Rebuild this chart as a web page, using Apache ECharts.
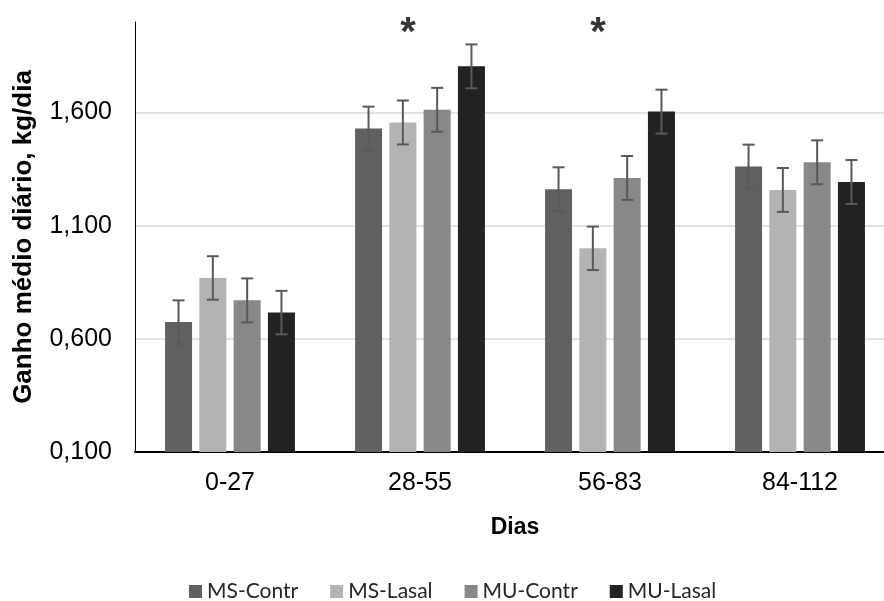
<!DOCTYPE html>
<html>
<head>
<meta charset="utf-8">
<script src="https://cdn.jsdelivr.net/npm/echarts@6/dist/echarts.min.js"></script>
<style>
  html, body { margin: 0; padding: 0; background: #fff; overflow: hidden; }
  #chart { width: 900px; height: 601px; }
</style>
</head>
<body>
<div id="chart"></div>
<script>
// data
const categories = ["0-27", "28-55", "56-83", "84-112"];
const seriesNames = ["MS-Contr", "MS-Lasal", "MU-Contr", "MU-Lasal"];
const msContr = [0.674, 1.529, 1.261, 1.361];
const msLasal = [0.869, 1.556, 1.000, 1.258];
const muContr = [0.770, 1.612, 1.311, 1.380];
const muLasal = [0.716, 1.804, 1.604, 1.293];
const msContrErr = [0.096, 0.097, 0.097, 0.097];
const msLasalErr = [0.096, 0.097, 0.096, 0.097];
const muContrErr = [0.097, 0.097, 0.097, 0.097];
const muLasalErr = [0.096, 0.097, 0.097, 0.097];
const sigCategories = ["28-55", "56-83"];
const sigHeight = [1.976, 1.976];
const yMin = 0.1;
const yMax = 2.0;
const yStep = 0.5;

const colors = ["#606060", "#b3b3b3", "#888888", "#222222"];
const BAR_W = 27;
const BAR_SPACE = 34.3; // bar width + gap between bars

const values = [msContr, msLasal, muContr, muLasal];
const errors = [msContrErr, msLasalErr, muContrErr, muLasalErr];

let myChart = echarts.init(document.getElementById("chart"));

const barSeries = seriesNames.map((name, i) => ({
  name: name,
  type: "bar",
  barWidth: BAR_W,
  barGap: "27%",
  itemStyle: { color: colors[i] },
  data: values[i]
}));

const errSeries = seriesNames.map((name, i) => ({
  name: name + "-err",
  type: "custom",
  z: 5,
  silent: true,
  data: values[i].map((v, k) => [k, v - errors[i][k], v + errors[i][k]]),
  encode: { x: 0, y: [1, 2] },
  renderItem: function (params, api) {
    const lo = api.coord([api.value(0), api.value(1)]);
    const hi = api.coord([api.value(0), api.value(2)]);
    const x = lo[0] + (i - 1.5) * BAR_SPACE;
    const cap = 6;
    const st = { stroke: "#595959", lineWidth: 2 };
    return {
      type: "group",
      children: [
        { type: "line", shape: { x1: x, y1: hi[1], x2: x, y2: lo[1] }, style: st },
        { type: "line", shape: { x1: x - cap, y1: hi[1], x2: x + cap, y2: hi[1] }, style: st },
        { type: "line", shape: { x1: x - cap, y1: lo[1], x2: x + cap, y2: lo[1] }, style: st }
      ]
    };
  }
}));

const sigSeries = {
  name: "sig",
  type: "scatter",
  symbolSize: 0,
  silent: true,
  z: 6,
  data: sigCategories.map((c, k) => [c, sigHeight[k]]),
  label: {
    show: true,
    position: "inside",
    formatter: "*",
    offset: [-12, 7],
    color: "#000",
    fontFamily: "Liberation Sans",
    fontWeight: "bold",
    fontSize: 40
  }
};

myChart.setOption({
  animation: false,
  grid: {
    left: 135,
    right: 5,
    top: 22,
    bottom: 149,
    containLabel: false
  },
  legend: {
    data: seriesNames,
    top: 576,
    left: 184,
    itemWidth: 13,
    itemHeight: 13,
    itemGap: 32,
    icon: "rect",
    textStyle: {
      fontFamily: "Lato",
      fontSize: 21,
      color: "#262626"
    }
  },
  xAxis: {
    type: "category",
    data: categories,
    name: "Dias",
    nameLocation: "middle",
    nameGap: 64,
    nameTextStyle: {
      fontFamily: "Liberation Sans",
      fontWeight: "bold",
      fontSize: 23,
      color: "#000"
    },
    axisLine: { lineStyle: { color: "#000", width: 2 } },
    axisTick: { show: false },
    axisLabel: {
      margin: 19,
      fontFamily: "Liberation Sans",
      fontSize: 25,
      color: "#000"
    }
  },
  yAxis: {
    type: "value",
    min: yMin,
    max: yMax,
    interval: yStep,
    name: "Ganho médio diário, kg/dia",
    nameLocation: "middle",
    nameGap: 98,
    nameTextStyle: {
      fontFamily: "Liberation Sans",
      fontWeight: "bold",
      fontSize: 26,
      color: "#000"
    },
    axisLine: { show: true, lineStyle: { color: "#000", width: 1 } },
    axisTick: { show: false },
    axisLabel: {
      margin: 23,
      showMaxLabel: false,
      fontFamily: "Liberation Sans",
      fontSize: 25,
      color: "#000",
      formatter: v => v.toFixed(3).replace(".", ",")
    },
    splitLine: {
      showMaxLine: false,
      lineStyle: { color: "#d9d9d9", width: 1.5 }
    }
  },
  series: [...barSeries, ...errSeries, sigSeries]
});
</script>
</body>
</html>
